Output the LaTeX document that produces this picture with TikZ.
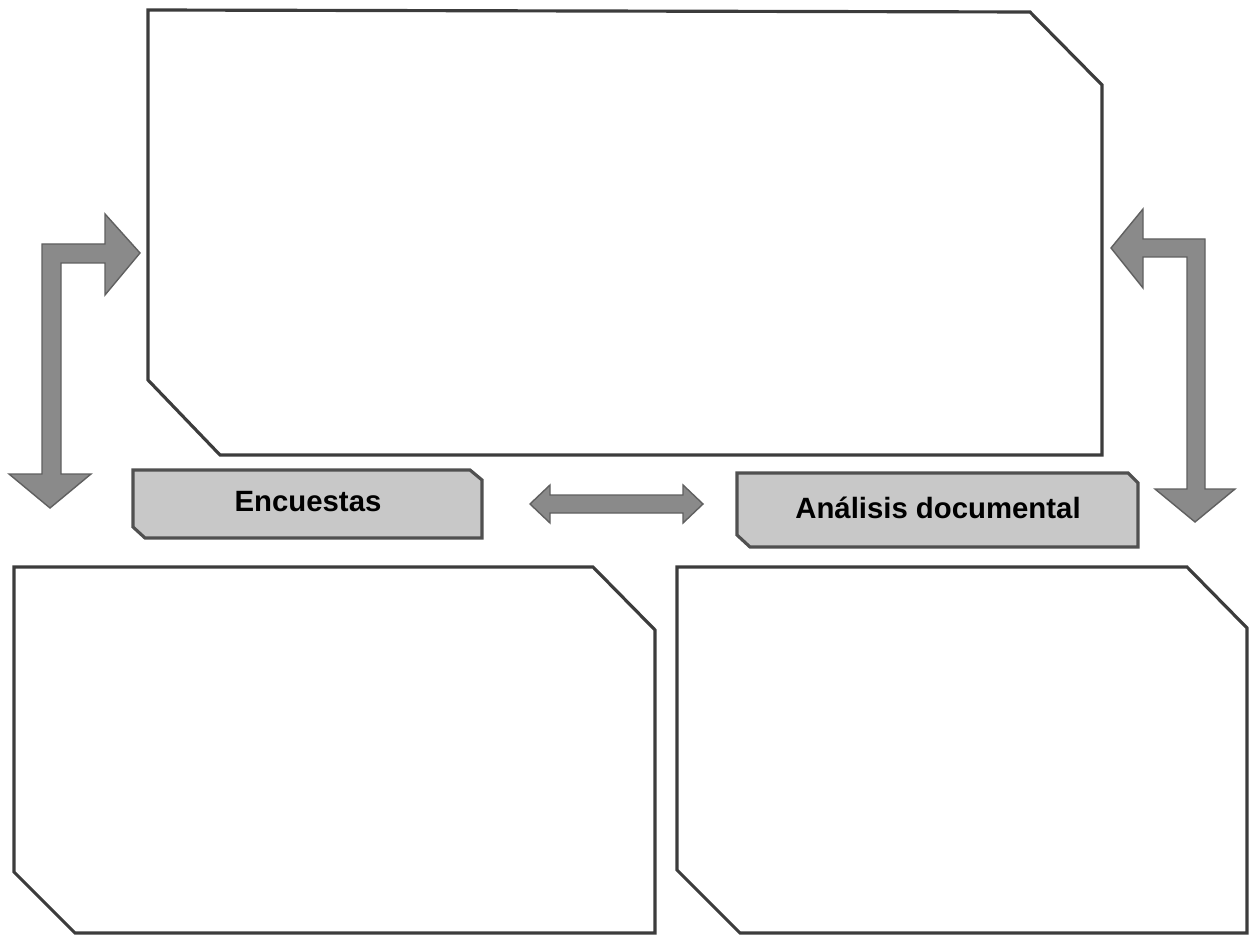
\documentclass[tikz,border=0pt]{standalone}
\usepackage{fontspec}
\setmainfont{Liberation Sans}
\usepackage{xcolor}
\definecolor{edge}{HTML}{3C3C3C}
\definecolor{tabfill}{HTML}{C8C8C8}
\definecolor{arrfill}{HTML}{8A8A8A}
\definecolor{arredge}{HTML}{606060}
\tikzset{
  panel/.style={draw=edge, line width=1.8pt, line join=miter},
  tab/.style={draw=edge!90, fill=tabfill, line width=1.8pt},
  blockarrow/.style={draw=arredge, fill=arrfill, line width=0.8pt, line join=miter},
  tablabel/.style={font=\bfseries\fontsize{16.7}{19}\selectfont, inner sep=0pt}
}

\begin{document}
\begin{tikzpicture}[x=0.02cm,y=-0.02cm]
\useasboundingbox (0,0) rectangle (1250,935);
% big box at the top
\draw[panel] (148,10)--(1030,12)--(1102,85)--(1102,455)--(220,455)--(148,380)-- cycle;
% boxes at the bottom
\draw[panel] (14,567)--(593,567)--(655,630)--(655,933)--(75,933)--(14,872)-- cycle;
\draw[panel] (677,567)--(1187,567)--(1247,628)--(1247,933)--(740,933)--(677,870)-- cycle;
% tabs
\draw[tab] (133,470)--(470,470)--(482,480)--(482,538)--(145,538)--(133,527)-- cycle;
\draw[tab] (737,473)--(1128,473)--(1138,483)--(1138,547)--(750,547)--(737,535)-- cycle;
\node[tablabel] (encuestas) at (308,502) {Encuestas};
\node[tablabel] (analisis) at (938,508) {Análisis documental};
% arrows
\draw[blockarrow] (42,244)--(105,244)--(105,214)--(140,253)--(105,295)--(105,263)
  --(61,263)--(61,474)--(91,474)--(50,508)--(9,474)--(42,474)-- cycle;
\draw[blockarrow] (1205,239)--(1143,239)--(1143,209)--(1111,248)--(1143,288)--(1143,257)
  --(1187,257)--(1187,489)--(1155,489)--(1195,522)--(1235,489)--(1205,489)-- cycle;
\draw[blockarrow] (530,504)--(550,485)--(550,495)--(683,495)--(683,485)--(703,504)
  --(683,523)--(683,513)--(550,513)--(550,523)-- cycle;
\end{tikzpicture}
\end{document}
